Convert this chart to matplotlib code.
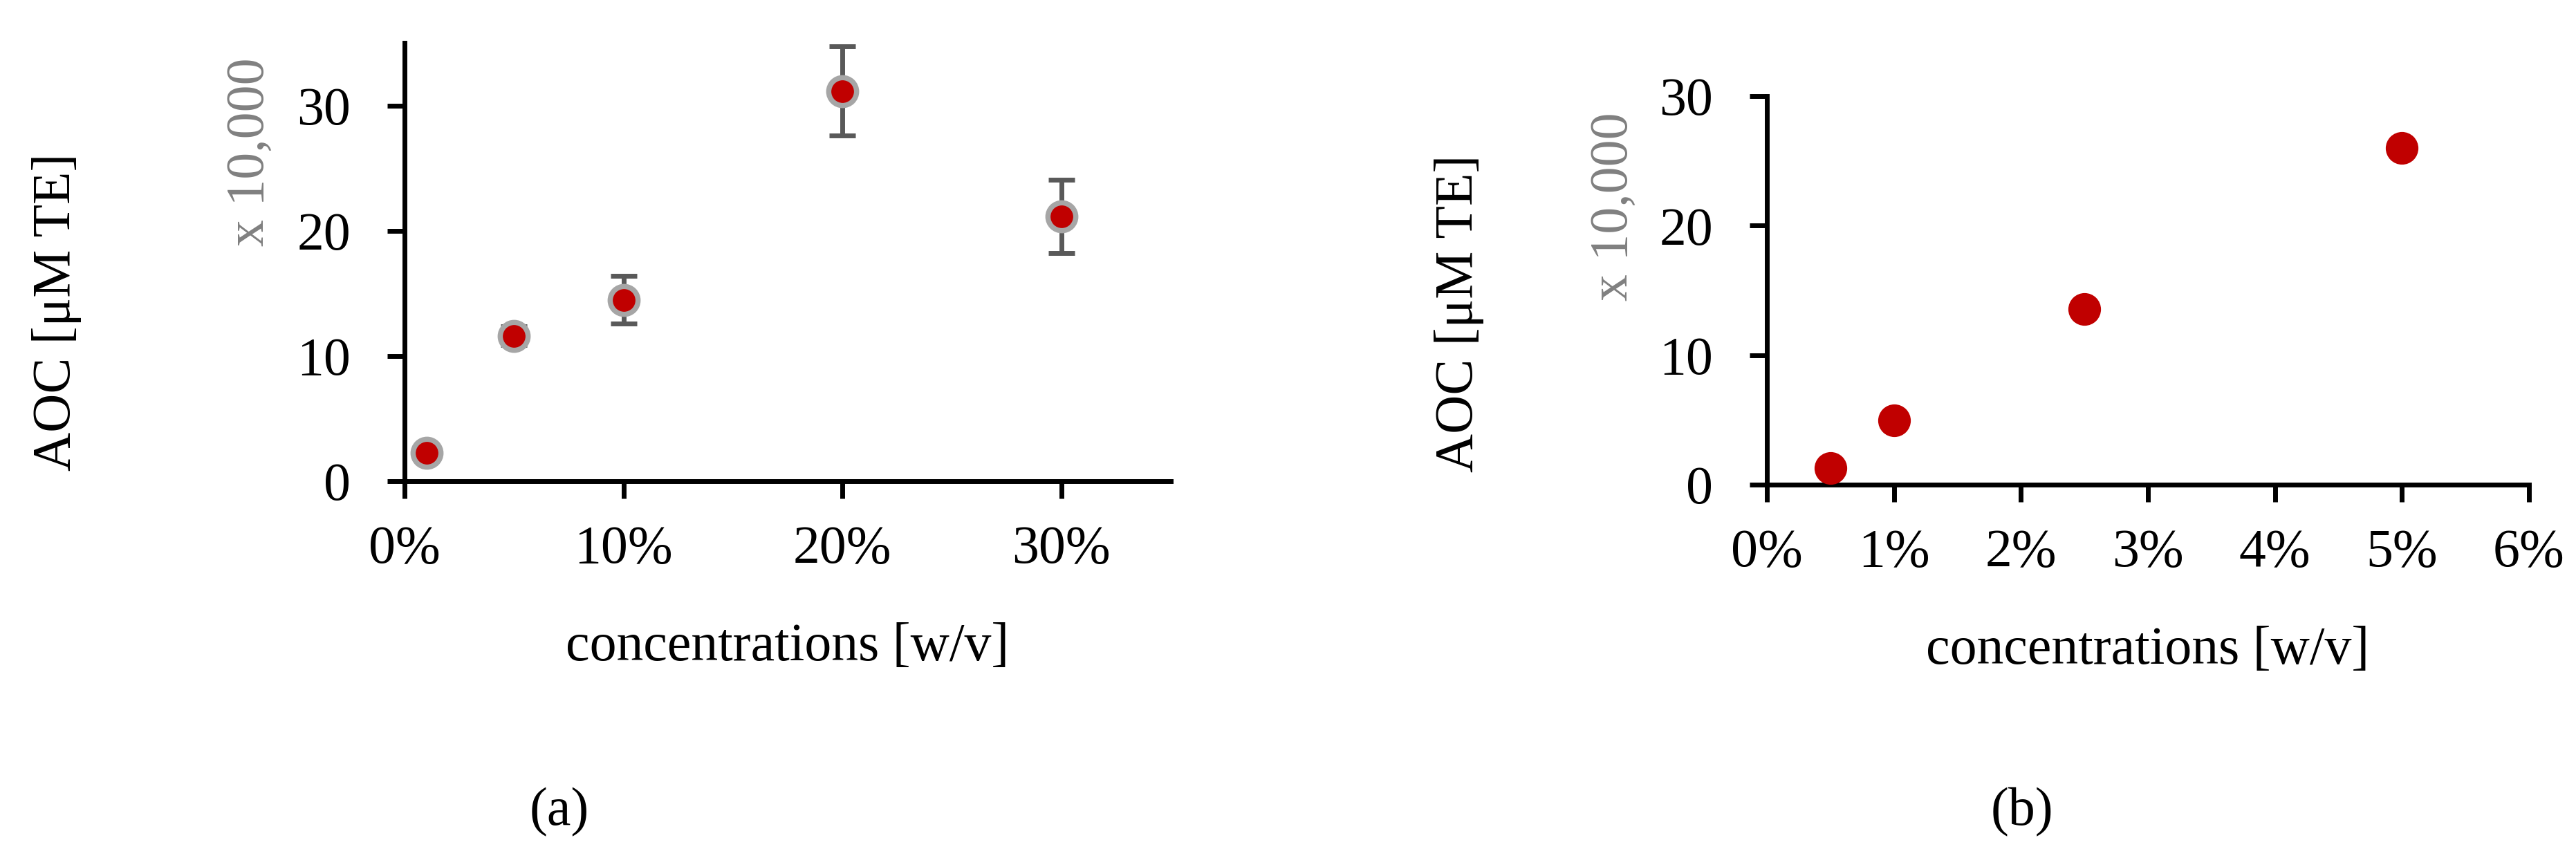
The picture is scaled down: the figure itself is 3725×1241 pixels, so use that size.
import matplotlib.pyplot as plt
from matplotlib.ticker import FuncFormatter

# (a) concentrations in %, AOC in units of 10,000 uM TE
conc_a = [1, 5, 10, 20, 30]
aoc_a = [2.26, 11.62, 14.47, 31.16, 21.14]
err_a = [0.3, 0.75, 1.9, 3.55, 2.92]

# (b)
conc_b = [0.5, 1, 2.5, 5]
aoc_b = [1.28, 4.97, 13.54, 26.01]

xticks_a = [0, 10, 20, 30]
xticks_b = [0, 1, 2, 3, 4, 5, 6]
yticks = [0, 10, 20, 30]

red = '#C00000'
ring = '#A6A6A6'
bar = '#595959'
grey_txt = '#808080'
fs = 56

plt.rcParams['font.family'] = ['Liberation Serif', 'DejaVu Serif']

W, H = 3725, 1241
fig = plt.figure(figsize=(W / 100, H / 100), dpi=100)


def px(x, y):
    return x / W, 1 - y / H


ax1 = fig.add_axes([585 / W, 1 - 696 / H, 1108 / W, 634 / H])
ax2 = fig.add_axes([2555 / W, 1 - 701 / H, 1102 / W, 562 / H])

ax1.errorbar(conc_a, aoc_a, yerr=err_a, fmt='none', ecolor=bar,
             elinewidth=5, capsize=14, capthick=5, zorder=2)
ax1.plot(conc_a, aoc_a, 'o', ms=29, mfc=red, mec=ring, mew=5.4,
         zorder=3, clip_on=False)
ax2.plot(conc_b, aoc_b, 'o', ms=34, mfc=red, mec='none',
         zorder=3, clip_on=False)

pct = FuncFormatter(lambda v, p: f'{v:.0f}%')

ax1.set_xlim(0, 35)
ax1.set_ylim(0, 35)
ax1.set_xticks(xticks_a)
ax2.set_xlim(0, 6)
ax2.set_ylim(0, 30)
ax2.set_xticks(xticks_b)

for ax in (ax1, ax2):
    ax.set_yticks(yticks)
    ax.xaxis.set_major_formatter(pct)
    for s in ('top', 'right'):
        ax.spines[s].set_visible(False)
    for s in ('left', 'bottom'):
        ax.spines[s].set_linewidth(5)
        ax.spines[s].set_color('black')
    ax.tick_params(direction='out', length=18, width=5, labelsize=fs)
    ax.tick_params(axis='y', pad=38)
    ax.tick_params(axis='x', pad=28)
    ax.set_facecolor('none')

# axis titles
for (x, y) in [(82, 451), (2110, 453)]:
    fig.text(*px(x, y), 'AOC [μM TE]', rotation=90, ha='center', va='center', fontsize=fs)
for (x, y) in [(362, 220), (2334, 299)]:
    fig.text(*px(x, y), 'x 10,000', rotation=90, ha='center', va='center',
             fontsize=fs, color=grey_txt)
for (x, y) in [(1139, 936), (3106, 941)]:
    fig.text(*px(x, y), 'concentrations [w/v]', ha='center', va='center', fontsize=fs)

fig.text(*px(809, 1175), '(a)', ha='center', va='center', fontsize=fs)
fig.text(*px(2924, 1175), '(b)', ha='center', va='center', fontsize=fs)

fig.savefig('out.png', dpi=100)
